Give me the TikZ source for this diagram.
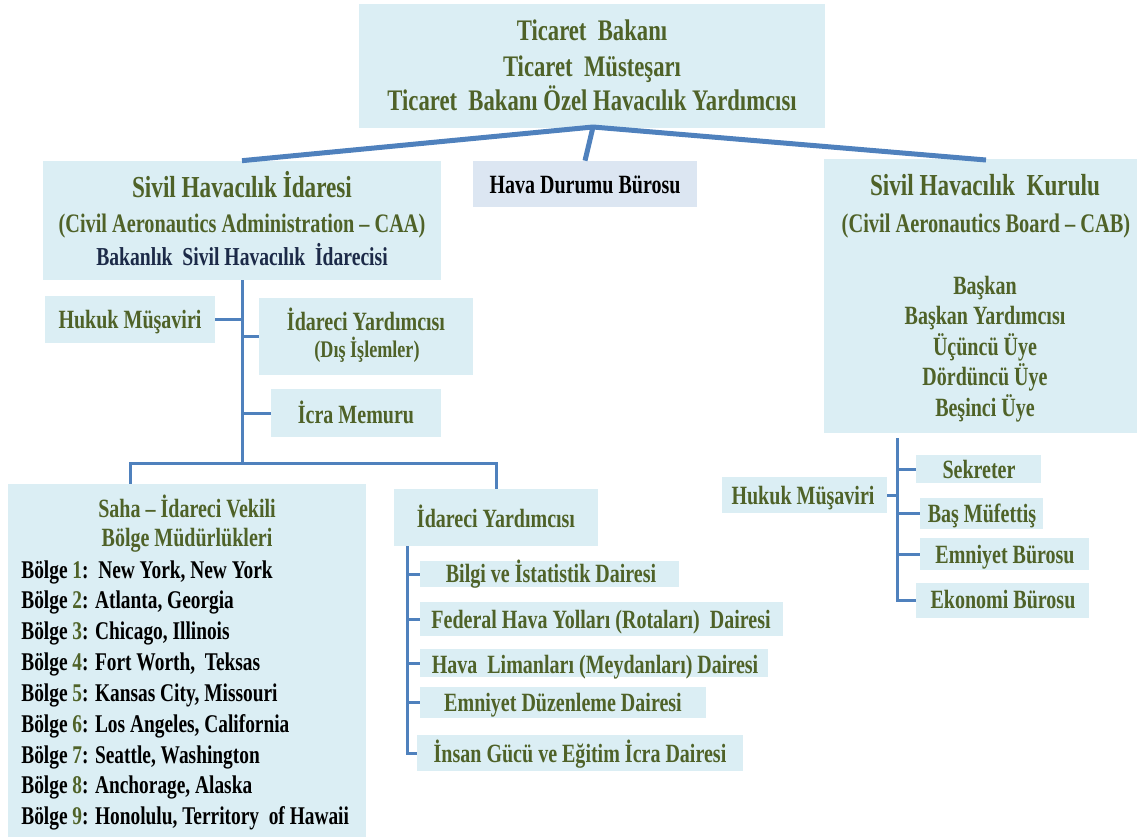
\documentclass[tikz,border=0pt]{standalone}
\usepackage{fontspec}
\setmainfont{Liberation Serif}[FakeStretch=0.76]
\definecolor{boxfill}{HTML}{DBEEF4}
\definecolor{hdfill}{HTML}{DCE6F2}
\definecolor{olive}{HTML}{4F6228}
\definecolor{navy}{HTML}{1C2A48}
\definecolor{linec}{HTML}{4F81BD}
\begin{document}
\begin{tikzpicture}[x=0.6pt,y=-0.6pt,
  box/.style={fill=boxfill,draw=none,inner sep=0pt},
  bw/.style={minimum width=#1*0.6pt},
  bh/.style={minimum height=#1*0.6pt},
  txt/.style={anchor=base,inner sep=0pt,font=\bfseries\fontsize{15.8}{18}\selectfont,text=olive},
  big/.style={txt,font=\bfseries\fontsize{17.9}{20}\selectfont},
  ltxt/.style={anchor=base west,inner sep=0pt,font=\bfseries\fontsize{15.3}{18}\selectfont,text=black},
  thickc/.style={draw=linec,line width=3pt},
  conn/.style={draw=linec,line width=1.8pt,line join=miter}]
\useasboundingbox (0,0) rectangle (1137,838);
% boxes
\node[box,bw=466,bh=124] (top) at (592,66) {};
\node[box,bw=398,bh=119] (SHI) at (242,220.5) {};
\node[box,fill=hdfill,bw=224,bh=46] (HD) at (585,184) {};
\node[box,bw=313,bh=274] (CAB) at (980.5,296) {};
\node[box,bw=170,bh=47] (HM1) at (130,319.5) {};
\node[box,bw=214,bh=77] (IY1) at (366,336.5) {};
\node[box,bw=170,bh=48] (IM) at (356,413) {};
\node[box,bw=358,bh=353] (Saha) at (187,660.5) {};
\node[box,bw=204,bh=57] (IY2) at (496,517.5) {};
\node[box,bw=259,bh=26] (D1) at (549.5,574) {};
\node[box,bw=363,bh=34] (D2) at (601.5,619) {};
\node[box,bw=348,bh=28] (D3) at (594,663) {};
\node[box,bw=286,bh=31] (D4) at (563,702.5) {};
\node[box,bw=326,bh=36] (D5) at (580,753) {};
\node[box,bw=165,bh=36] (HM2) at (804.5,495) {};
\node[box,bw=125,bh=28] (S1) at (978.5,469) {};
\node[box,bw=123,bh=31] (S2) at (981.5,513.5) {};
\node[box,bw=169,bh=32] (S3) at (1004.5,554) {};
\node[box,bw=173,bh=35] (S4) at (1002.5,600.5) {};
% texts
\node[big] (t1) at (592,40) {Ticaret\ \ Bakanı};
\node[big] (t2) at (592,76) {Ticaret\ \ Müsteşarı};
\node[big] (t3) at (592,110) {Ticaret\ \ Bakanı Özel Havacılık Yardımcısı};
\node[big,font=\bfseries\fontsize{18.3}{20}\selectfont] (shi1) at (242,197) {Sivil Havacılık İdaresi};
\node[txt,font=\bfseries\fontsize{16}{18}\selectfont] (shi2) at (242,232) {(Civil Aeronautics Administration – CAA)};
\node[txt,text=navy,font=\bfseries\fontsize{15.5}{18}\selectfont] (shi3) at (242,265) {Bakanlık\ \ Sivil Havacılık\ \ İdarecisi};
\node[txt,text=black] (hdt) at (585,193) {Hava Durumu Bürosu};
\node[big,font=\bfseries\fontsize{18.3}{20}\selectfont] (cab1) at (985,195) {Sivil Havacılık\ \ Kurulu};
\node[txt,font=\bfseries\fontsize{16.1}{18}\selectfont] (cab2) at (986,232) {(Civil Aeronautics Board – CAB)};
\node[txt] (cab3) at (985,294) {Başkan};
\node[txt] (cab4) at (985,324) {Başkan Yardımcısı};
\node[txt] (cab5) at (985,355) {Üçüncü Üye};
\node[txt] (cab6) at (985,385) {Dördüncü Üye};
\node[txt] (cab7) at (985,416) {Beşinci Üye};
\node[txt] (hm1t) at (130,328) {Hukuk Müşaviri};
\node[txt] (iy1a) at (366,330) {İdareci Yardımcısı};
\node[txt,font=\bfseries\fontsize{14.3}{16}\selectfont] (iy1b) at (367,357) {(Dış İşlemler)};
\node[txt] (imt) at (356,423) {İcra Memuru};
\node[txt] (sa1) at (187,517) {Saha – İdareci Vekili};
\node[txt] (sa2) at (187,546) {Bölge Müdürlükleri};
\node[ltxt] (b1) at (21,578) {Bölge \textcolor{olive}{1}:\ \ New York, New York};
\node[ltxt] (b2) at (21,608) {Bölge \textcolor{olive}{2}: Atlanta, Georgia};
\node[ltxt] (b3) at (21,639) {Bölge \textcolor{olive}{3}: Chicago, Illinois};
\node[ltxt] (b4) at (21,670) {Bölge \textcolor{olive}{4}: Fort Worth,\ \ Teksas};
\node[ltxt] (b5) at (21,701) {Bölge \textcolor{olive}{5}: Kansas City, Missouri};
\node[ltxt] (b6) at (21,732) {Bölge \textcolor{olive}{6}: Los Angeles, California};
\node[ltxt] (b7) at (21,763) {Bölge \textcolor{olive}{7}: Seattle, Washington};
\node[ltxt] (b8) at (21,793) {Bölge \textcolor{olive}{8}: Anchorage, Alaska};
\node[ltxt] (b9) at (21,824) {Bölge \textcolor{olive}{9}: Honolulu, Territory\ \ of Hawaii};
\node[txt] (iy2t) at (496,527) {İdareci Yardımcısı};
\node[txt] (d1t) at (551,582) {Bilgi ve İstatistik Dairesi};
\node[txt] (d2t) at (601,628) {Federal Hava Yolları (Rotaları)\ \ Dairesi};
\node[txt] (d3t) at (595,673) {Hava\ \ Limanları (Meydanları) Dairesi};
\node[txt] (d4t) at (563,711) {Emniyet Düzenleme Dairesi};
\node[txt] (d5t) at (580,762) {İnsan Gücü ve Eğitim İcra Dairesi};
\node[txt] (hm2t) at (803,504) {Hukuk Müşaviri};
\node[txt] (s1t) at (979,478) {Sekreter};
\node[txt] (s2t) at (982,522) {Baş Müfettiş};
\node[txt] (s3t) at (1005,563) {Emniyet Bürosu};
\node[txt] (s4t) at (1003,608) {Ekonomi Bürosu};
% connectors
\coordinate (hub) at (593,127);
\draw[thickc] (hub) -- (SHI.north);
\draw[thickc] (hub) -- (986,160);
\draw[thickc] (hub) -- (HD.north);
\coordinate (jL) at (242,463);
\coordinate (barL) at (130,463);
\coordinate (barR) at (496,463);
\draw[conn] (SHI.south) -- (jL);
\draw[conn] (Saha.north -| barL) -- (barL) -- (barR) -- (IY2.north);
\draw[conn] (HM1.east) -- (HM1.east -| SHI.south);
\draw[conn] (IY1.west) -- (IY1.west -| SHI.south);
\draw[conn] (IM.west) -- (IM.west -| SHI.south);
\coordinate (t2top) at (407,546);
\draw[conn] (t2top) |- (D5.west);
\draw[conn] (D1.west -| t2top) -- (D1.west);
\draw[conn] (D2.west -| t2top) -- (D2.west);
\draw[conn] (D3.west -| t2top) -- (D3.west);
\draw[conn] (D4.west -| t2top) -- (D4.west);
\coordinate (t3top) at (897,438);
\draw[conn] (t3top) |- (S4.west);
\draw[conn] (S1.west -| t3top) -- (S1.west);
\draw[conn] (S2.west -| t3top) -- (S2.west);
\draw[conn] (S3.west -| t3top) -- (S3.west);
\draw[conn] (HM2.east) -- (HM2.east -| t3top);
\end{tikzpicture}
\end{document}
